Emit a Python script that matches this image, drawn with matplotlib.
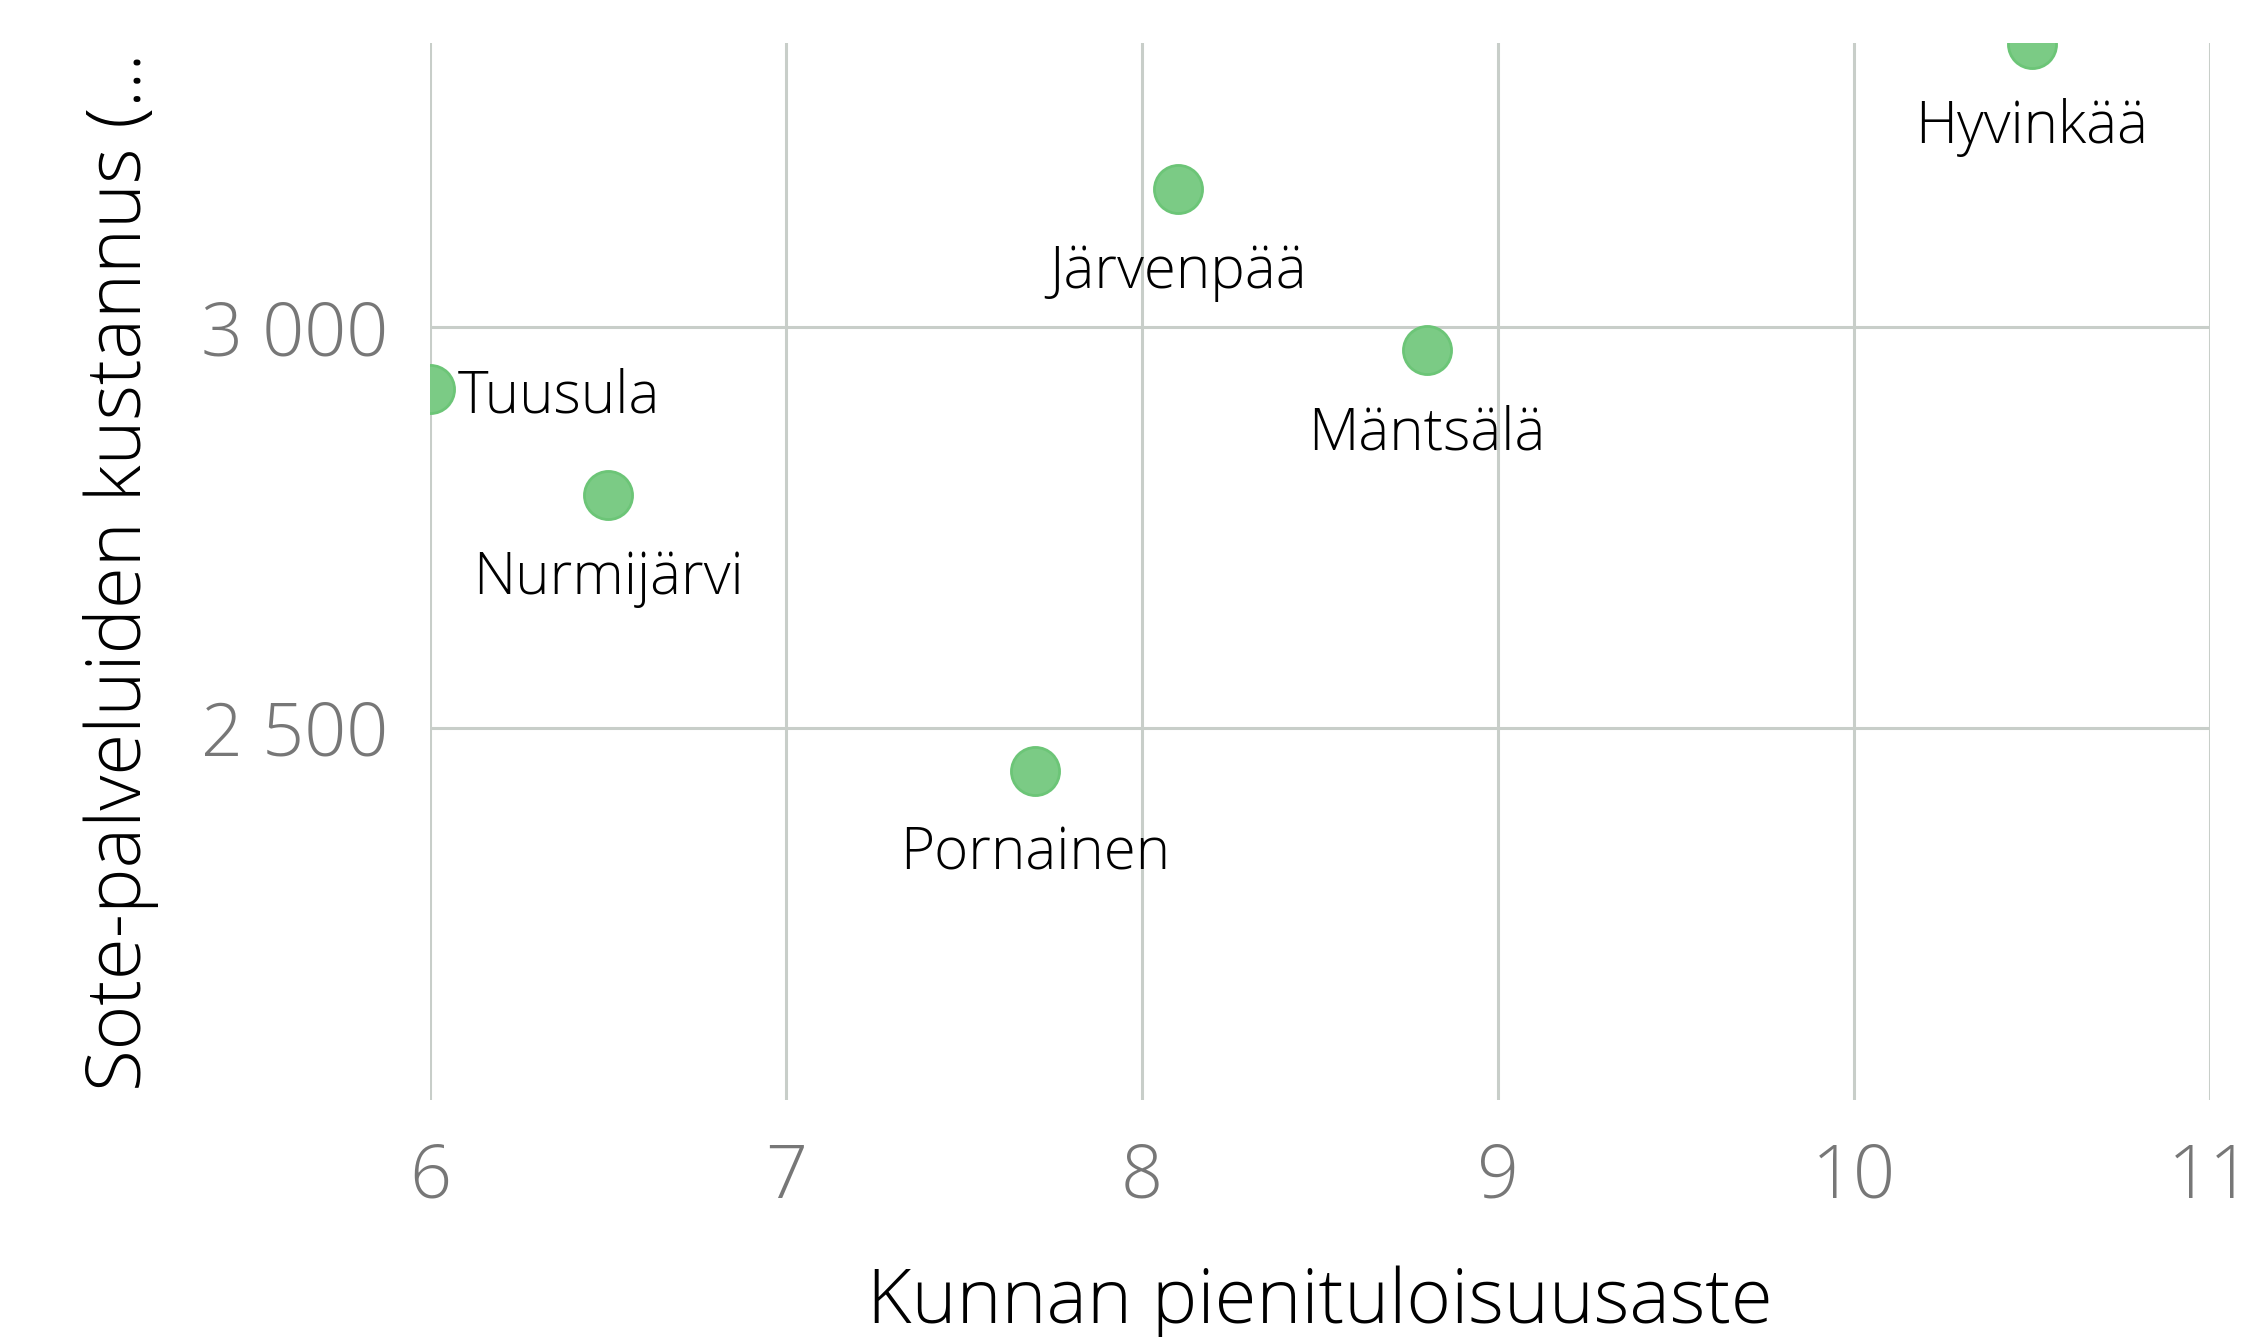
import matplotlib.pyplot as plt

kunnat = ["Tuusula", "Nurmijärvi", "Pornainen", "Järvenpää", "Mäntsälä", "Hyvinkää"]
pienituloisuus = [6.0, 6.5, 7.7, 8.1, 8.8, 10.5]
sote_kustannus = [2923, 2790, 2446, 3173, 2971, 3354]
x_ticks = [6, 7, 8, 9, 10, 11]
y_ticks = [2500, 3000]
y_ticklabels = ["2 500", "3 000"]

plt.rcParams['font.family'] = ['Open Sans', 'DejaVu Sans']

fig = plt.figure(figsize=(22.55, 13.37), dpi=100)
ax = fig.add_axes([430 / 2255, 1 - 1100 / 1337, 1780 / 2255, 1057 / 1337])

ax.scatter(pienituloisuus, sote_kustannus, s=1200, color="#7BCB85",
           edgecolor="#6CC577", linewidth=2, zorder=3, clip_on=True)

for name, x, y in zip(kunnat, pienituloisuus, sote_kustannus):
    if name == "Tuusula":
        ax.annotate(name, (x, y), xytext=(20, -6), textcoords="offset points",
                    ha="left", va="center", fontsize=42, fontweight="light",
                    color="black", zorder=4)
    else:
        ax.annotate(name, (x, y), xytext=(0, -60), textcoords="offset points",
                    ha="center", va="center", fontsize=42, fontweight="light",
                    color="black", zorder=4)

ax.set_xlim(6, 11)
ax.set_ylim(2035, 3355)
ax.set_xticks(x_ticks)
ax.set_yticks(y_ticks)
ax.set_yticklabels(y_ticklabels)
ax.grid(True, color="#C8CEC9", linewidth=2.2, zorder=0)
ax.set_axisbelow(True)
for s in ax.spines.values():
    s.set_visible(False)
ax.tick_params(length=0, labelsize=53, labelcolor="#777777", pad=30)
for lab in ax.get_xticklabels() + ax.get_yticklabels():
    lab.set_fontweight("light")

ax.set_xlabel("Kunnan pienituloisuusaste", fontsize=55, fontweight="light",
              labelpad=36)
ax.set_ylabel("Sote-palveluiden kustannus (…", fontsize=55, fontweight="light",
              labelpad=30)

fig.savefig("out.png", dpi=100)
